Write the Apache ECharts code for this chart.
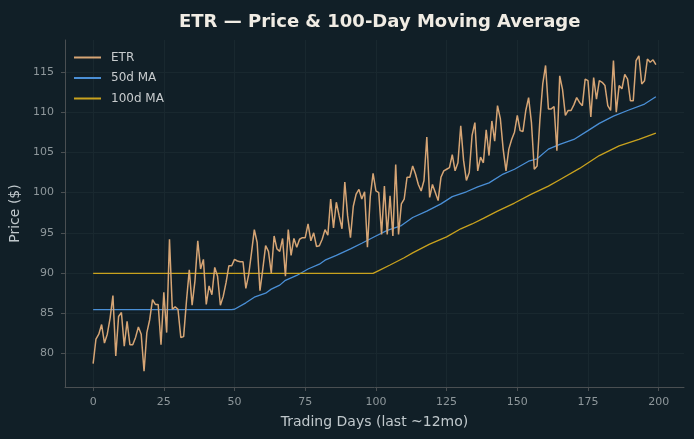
<!DOCTYPE html>
<html><head><meta charset="utf-8">
<script src="https://cdn.jsdelivr.net/npm/echarts@6/dist/echarts.min.js"></script>
<style>html,body{margin:0;padding:0;background:#111f27}#c{width:694px;height:439px}</style>
</head><body><div id="c"></div>
<script>
const price = [78.75,81.8,82.4,83.6,81.3,82.4,84.4,87.2,79.7,84.6,
85.1,80.9,84.0,81.1,81.1,82.0,83.3,82.4,77.8,82.6,
84.2,86.7,86.1,86.1,81.1,87.6,82.6,94.2,85.5,85.8,
85.5,82.0,82.1,86.5,90.4,86.0,89.0,94.0,90.5,91.7,
86.1,88.4,87.3,90.7,89.6,86.0,87.1,88.8,90.9,90.9,
91.7,91.5,91.4,91.4,88.1,89.8,92.5,95.4,93.8,87.8,
90.5,93.4,92.7,90.0,94.6,93.0,92.7,94.3,89.6,95.4,
92.2,94.3,93.2,94.2,94.4,94.4,96.1,94.0,95.0,93.3,
93.4,94.2,95.4,94.7,99.2,95.6,98.8,97.1,95.5,101.3,
97.1,94.4,98.3,99.8,100.4,99.2,100.1,93.2,99.5,102.4,
100.2,100.0,94.8,100.8,94.8,99.6,94.6,103.5,94.8,98.6,
99.2,101.9,101.9,103.3,102.3,101.0,100.2,101.5,106.9,99.4,
101.0,100.0,99.0,101.9,102.7,102.9,103.1,104.7,102.7,103.7,
108.3,104.0,101.5,102.5,107.1,108.7,102.7,104.4,103.7,107.8,
104.6,108.9,106.4,110.8,109.2,105.4,102.7,105.4,106.6,107.5,
109.6,107.7,107.6,110.2,111.8,108.7,102.9,103.3,109.1,113.5,
115.8,110.4,110.4,110.7,105.2,114.5,112.8,109.6,110.2,110.2,
110.9,111.8,111.2,110.8,114.1,113.9,109.4,114.3,111.6,113.9,
113.7,113.3,110.8,110.2,116.4,110.0,113.3,112.9,114.7,114.1,
111.4,111.4,116.4,117.0,113.5,113.9,116.6,116.2,116.5,115.9];

const ma50Days = [0,49,50,54,57,61,63,66,68,72,76,80,82,86,91,95,100,104,109,113,118,123,127,132,136,140,145,149,154,157,161,165,170,175,179,184,189,195,199];
const ma50Vals = [85.45,85.45,85.5,86.3,87.0,87.5,88.0,88.5,89.1,89.7,90.5,91.1,91.6,92.2,93.0,93.7,94.6,95.3,95.9,96.9,97.7,98.6,99.5,100.1,100.7,101.2,102.3,102.9,103.9,104.2,105.4,106.0,106.6,107.7,108.6,109.5,110.2,111.0,111.9];

const ma100Days = [0,99,101,105,110,113,119,125,130,134,138,143,149,155,161,165,172,179,186,193,199];
const ma100Vals = [89.95,89.95,90.3,91.0,91.9,92.5,93.6,94.5,95.5,96.1,96.8,97.7,98.7,99.8,100.8,101.6,103.0,104.6,105.8,106.6,107.4];

const xTicks = [0,25,50,75,100,125,150,175,200];
const yTicks = [80,85,90,95,100,105,110,115];

const priceData = price.map((v,i)=>[i,v]);
const ma50Data = ma50Days.map((d,i)=>[d,ma50Vals[i]]);
const ma100Data = ma100Days.map((d,i)=>[d,ma100Vals[i]]);

const gridColor = '#19282f';
const spineColor = '#4a4f52';
const gridLines = xTicks.map(v=>({xAxis:v})).concat(yTicks.map(v=>({yAxis:v})));

const chart = echarts.init(document.getElementById('c'), null, {renderer:'canvas'});
chart.setOption({
  backgroundColor:'#111f27',
  animation:false,
  textStyle:{fontFamily:'DejaVu Sans'},
  title:{text:'ETR — Price & 100-Day Moving Average',left:174,top:8,
    textStyle:{color:'#f0ece4',fontSize:18,fontWeight:'bold',fontFamily:'DejaVu Sans'}},
  grid:{left:65,right:10,top:40,bottom:52},
  legend:{orient:'vertical',left:69,top:46.5,itemWidth:27,itemHeight:2,itemGap:8.5,
    textStyle:{color:'#c8ccce',fontSize:12,fontFamily:'DejaVu Sans',padding:[0,0,0,5]},
    data:[{name:'ETR',icon:'rect'},{name:'50d MA',icon:'rect'},{name:'100d MA',icon:'rect'}]},
  xAxis:{type:'value',min:-9.95,max:208.95,
    name:'Trading Days (last ~12mo)',nameLocation:'middle',nameGap:28,
    nameTextStyle:{color:'#c0c8cc',fontSize:14,fontFamily:'DejaVu Sans'},
    axisLine:{show:true,onZero:false,lineStyle:{color:spineColor,width:1}},
    axisTick:{show:true,customValues:xTicks,length:4,lineStyle:{color:spineColor}},
    axisLabel:{customValues:xTicks,color:'#8e979b',fontSize:11,margin:10,fontFamily:'DejaVu Sans'},
    splitLine:{show:false}},
  yAxis:{type:'value',min:75.84,max:118.96,
    name:'Price ($)',nameLocation:'middle',nameGap:42,nameRotate:90,
    nameTextStyle:{color:'#c0c8cc',fontSize:14,fontFamily:'DejaVu Sans'},
    axisLine:{show:true,onZero:false,lineStyle:{color:spineColor,width:1}},
    axisTick:{show:true,customValues:yTicks,length:4,lineStyle:{color:spineColor}},
    axisLabel:{customValues:yTicks,color:'#8e979b',fontSize:11,margin:11,fontFamily:'DejaVu Sans'},
    splitLine:{show:false}},
  series:[
    {name:'grid',type:'line',data:[],symbol:'none',z:0,silent:true,
      markLine:{silent:true,symbol:'none',label:{show:false},animation:false,z:0,
        lineStyle:{color:gridColor,width:1,type:'solid'},data:gridLines}},
    {name:'ETR',type:'line',data:priceData,symbol:'none',z:4,
      lineStyle:{color:'#d6a575',width:1.5},itemStyle:{color:'#d6a575'}},
    {name:'50d MA',type:'line',data:ma50Data,symbol:'none',z:3,
      lineStyle:{color:'#4a8fd6',width:1.3},itemStyle:{color:'#4a8fd6'}},
    {name:'100d MA',type:'line',data:ma100Data,symbol:'none',z:3,
      lineStyle:{color:'#c9a21e',width:1.3},itemStyle:{color:'#c9a21e'}}
  ]
});
</script></body></html>
